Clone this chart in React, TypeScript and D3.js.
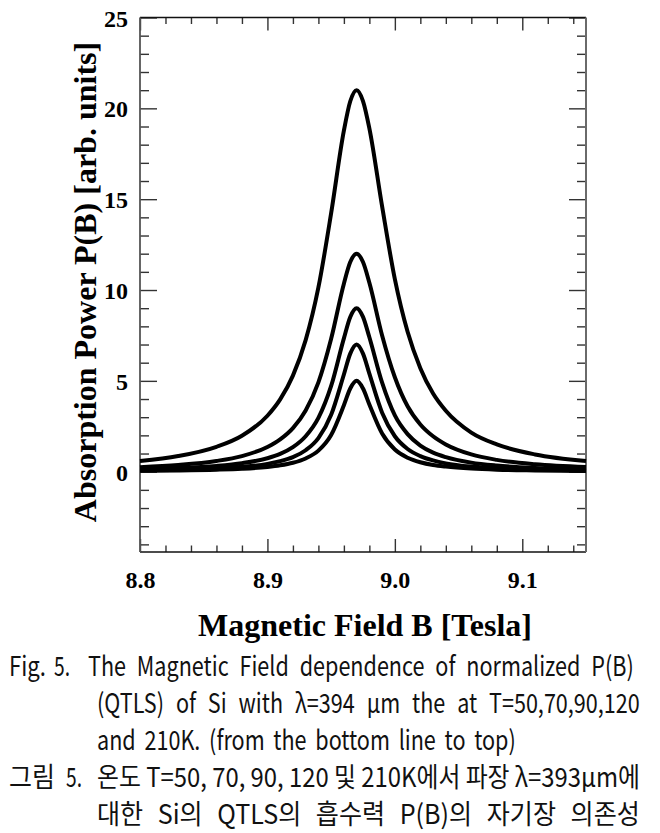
import React, { useEffect, useRef } from 'react'
import * as d3 from 'd3'

// magnetic field samples (Tesla)
const fieldB = [8.80, 8.83, 8.86, 8.88, 8.90, 8.91, 8.92, 8.93, 8.94, 8.95, 8.96, 8.965, 8.97,
  8.975, 8.98, 8.99, 9.00, 9.01, 9.02, 9.03, 9.04, 9.06, 9.08, 9.11, 9.15]

// absorption power, bottom line to top
const p50K = [0.05, 0.07, 0.11, 0.16, 0.26, 0.35, 0.49, 0.73, 1.16, 2.02, 3.66, 4.58, 5.0,
  4.58, 3.7, 2.1, 1.22, 0.77, 0.52, 0.37, 0.28, 0.17, 0.11, 0.07, 0.04]
const p70K = [0.08, 0.11, 0.18, 0.27, 0.43, 0.58, 0.80, 1.18, 1.85, 3.13, 5.35, 6.50, 7.0,
  6.5, 5.4, 3.25, 1.95, 1.25, 0.86, 0.62, 0.46, 0.28, 0.19, 0.12, 0.07]
const p90K = [0.14, 0.20, 0.32, 0.47, 0.74, 0.98, 1.35, 1.95, 2.96, 4.72, 7.34, 8.52, 9.0,
  8.52, 7.4, 4.9, 3.1, 2.07, 1.44, 1.05, 0.8, 0.5, 0.34, 0.21, 0.13]
const p120K = [0.25, 0.37, 0.59, 0.86, 1.36, 1.78, 2.40, 3.37, 4.92, 7.32, 10.35, 11.54, 12.0,
  11.54, 10.4, 7.5, 5.2, 3.6, 2.6, 1.95, 1.5, 0.95, 0.65, 0.41, 0.26]
const p210K = [0.59, 0.86, 1.37, 1.98, 3.08, 3.98, 5.29, 7.24, 10.14, 14.23, 18.77, 20.39, 21.0,
  20.4, 18.9, 14.6, 10.6, 7.7, 5.7, 4.3, 3.35, 2.15, 1.5, 0.95, 0.59]

const series = [p50K, p70K, p90K, p120K, p210K]

const xMajor = [8.8, 8.9, 9.0, 9.1]
const yMajor = [0, 5, 10, 15, 20, 25]

const caption = [
  { head: 'Fig.', num: '5.', text: 'The Magnetic Field dependence of  normalized P(B)', start: 88, end: 640 },
  { head: '', num: '', text: '(QTLS) of Si with λ=394 μm the at T=50,70,90,120', start: 97, end: 640 },
  { head: '', num: '', text: 'and 210K. (from the bottom line to top)', start: 97, end: 516 },
  { head: '그림', num: '5.', text: '온도 T=50, 70, 90, 120 및 210K에서 파장 λ=393μm에', start: 97, end: 640 },
  { head: '', num: '', text: '대한 Si의 QTLS의 흡수력 P(B)의 자기장 의존성', start: 97, end: 640 },
]

export default function App() {
  const ref = useRef<SVGSVGElement>(null)

  useEffect(() => {
    const svg = d3.select(ref.current)
    svg.selectAll('*').remove()

    const left = 140, right = 586, top = 17.5, bottom = 552
    const x = d3.scaleLinear().domain([8.8, 9.15]).range([left, right])
    const y = d3.scaleLinear().domain([-4.42, 25]).range([bottom, top])

    const serif = '"Liberation Serif", "Times New Roman", serif'
    const xMinor = d3.range(8.82, 9.15, 0.02).filter(v => !xMajor.some(m => Math.abs(m - v) < 1e-6))
    const yMinor = d3.range(-4, 25, 1).filter(v => v % 5 !== 0)

    const g = svg.append('g')

    // bottom / top ticks
    const bx = g.append('g').attr('transform', `translate(0,${bottom})`)
      .call(d3.axisBottom(x).tickValues(xMajor).tickSizeInner(-13).tickSizeOuter(0)
        .tickPadding(19).tickFormat(d3.format('.1f')))
    bx.select('.domain').remove()
    bx.selectAll('text').attr('font-family', serif).attr('font-weight', 'bold')
      .attr('font-size', 24).attr('fill', '#000')
    g.append('g').attr('transform', `translate(0,${bottom})`)
      .call(d3.axisBottom(x).tickValues(xMinor).tickSize(-6.5).tickFormat(() => ''))
      .select('.domain').remove()
    g.append('g').attr('transform', `translate(0,${top})`)
      .call(d3.axisTop(x).tickValues(xMajor).tickSize(-13).tickFormat(() => ''))
      .select('.domain').remove()
    g.append('g').attr('transform', `translate(0,${top})`)
      .call(d3.axisTop(x).tickValues(xMinor).tickSize(-6.5).tickFormat(() => ''))
      .select('.domain').remove()

    // left / right ticks
    const ly = g.append('g').attr('transform', `translate(${left},0)`)
      .call(d3.axisLeft(y).tickValues(yMajor).tickSizeInner(-17).tickSizeOuter(0).tickPadding(12))
    ly.select('.domain').remove()
    ly.selectAll('text').attr('font-family', serif).attr('font-weight', 'bold')
      .attr('font-size', 24).attr('fill', '#000').attr('dy', '0.36em')
    g.append('g').attr('transform', `translate(${left},0)`)
      .call(d3.axisLeft(y).tickValues(yMinor).tickSize(-9).tickFormat(() => ''))
      .select('.domain').remove()
    g.append('g').attr('transform', `translate(${right},0)`)
      .call(d3.axisRight(y).tickValues(yMajor).tickSize(-17).tickFormat(() => ''))
      .select('.domain').remove()
    g.append('g').attr('transform', `translate(${right},0)`)
      .call(d3.axisRight(y).tickValues(yMinor).tickSize(-9).tickFormat(() => ''))
      .select('.domain').remove()

    g.selectAll('.tick line').attr('stroke', '#333').attr('stroke-width', 1.4)

    // frame
    g.append('line').attr('x1', left).attr('x2', right).attr('y1', top).attr('y2', top)
      .attr('stroke', '#111').attr('stroke-width', 1.4)
    g.append('line').attr('x1', left).attr('x2', right).attr('y1', bottom).attr('y2', bottom)
      .attr('stroke', '#111').attr('stroke-width', 1.4)
    g.append('line').attr('x1', left).attr('x2', left).attr('y1', top).attr('y2', bottom)
      .attr('stroke', '#555').attr('stroke-width', 1.8)
    g.append('line').attr('x1', right).attr('x2', right).attr('y1', top).attr('y2', bottom)
      .attr('stroke', '#6a6a6a').attr('stroke-width', 2)

    // curves
    const line = d3.line<number>()
      .x((_, i) => x(fieldB[i]))
      .y(d => y(d))
      .curve(d3.curveMonotoneX)
    g.append('g').selectAll('path').data(series).join('path')
      .attr('d', d => line(d))
      .attr('fill', 'none').attr('stroke', '#000').attr('stroke-width', 4)
      .attr('stroke-linejoin', 'round')

    // axis titles
    g.append('text').attr('x', (left + right) / 2 + 2).attr('y', 636)
      .attr('text-anchor', 'middle').attr('font-family', serif).attr('font-weight', 'bold')
      .attr('font-size', 32).text('Magnetic Field B [Tesla]')
    g.append('text').attr('transform', 'translate(96,282) rotate(-90)')
      .attr('text-anchor', 'middle').attr('font-family', serif).attr('font-weight', 'bold')
      .attr('font-size', 32).text('Absorption Power P(B) [arb. units]')

    // caption: condensed, justified lines
    const sans = '"Noto Sans CJK KR", "Noto Sans", sans-serif'
    const cap = g.append('g').attr('font-family', sans).attr('font-size', 27).attr('fill', '#111')
    const fit = (txt: string, x0: number, x1: number, by: number, squeeze: number) => {
      const t = cap.append('text').attr('x', 0).attr('y', 0).text(txt)
      const w = (t.node() as SVGTextElement).getComputedTextLength()
      const target = x1 - x0
      const gaps = (txt.match(/ /g) || []).length
      let sx = squeeze
      let ws = gaps ? (target / sx - w) / gaps : 0
      if (ws < 0 || !gaps) { ws = 0; sx = target / w }
      t.attr('word-spacing', ws).attr('transform', `translate(${x0},${by}) scale(${sx},1)`)
    }
    caption.forEach((c, i) => {
      const by = 676 + i * 37
      const isKo = /[가-힣]/.test(c.text)
      if (c.head) fit(c.head, 9, isKo ? 55 : 46, by, 0.8)
      if (c.num) fit(c.num, isKo ? 66 : 54, isKo ? 82 : 70, by, 0.8)
      fit(c.text, c.start, c.end, by, isKo ? 0.93 : 0.8)
    })
  }, [])

  return (
    <svg ref={ref} width={660} height={833}
      style={{ position: 'absolute', left: 0, top: 0, background: '#fff' }} />
  )
}
